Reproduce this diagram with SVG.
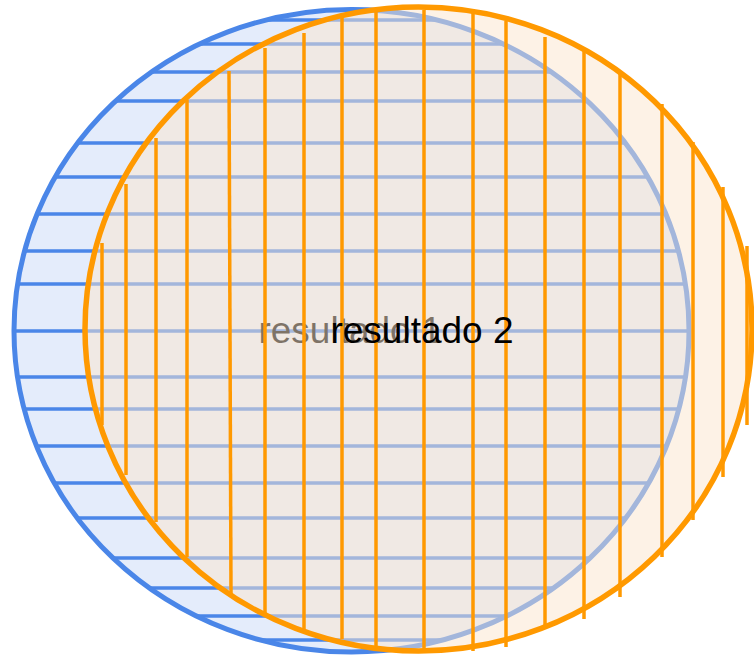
<svg xmlns="http://www.w3.org/2000/svg" width="754" height="657" viewBox="0 0 754 657">
  <style>
    .bfill { fill: #c9daf8; fill-opacity: 0.5; }
    .bline { stroke: #4a86e8; stroke-width: 3.5; fill: none; }
    .bedge { stroke: #4a86e8; stroke-width: 5; fill: none; }
    .ofill { fill: #fce5cd; fill-opacity: 0.5; }
    .oline { stroke: #ff9900; stroke-width: 3.5; fill: none; }
    .oedge { stroke: #ff9900; stroke-width: 5.5; fill: none; }
    .lbl { font-family: "Liberation Sans", Arial, sans-serif; font-size: 37px; fill: #000000; text-anchor: middle; }
  </style>
  <defs>
    <clipPath id="clipBlue">
      <ellipse cx="351.5" cy="330.8" rx="338" ry="321.5"/>
    </clipPath>
  </defs>
  <rect width="754" height="657" fill="#ffffff"/>

  <g id="resultado1">
    <ellipse class="bfill" cx="351.5" cy="330.8" rx="337.5" ry="321.2"/>
    <g clip-path="url(#clipBlue)">
      <line class="bline" x1="0" y1="20" x2="754" y2="20"/>
      <line class="bline" x1="0" y1="44" x2="754" y2="44"/>
      <line class="bline" x1="0" y1="72" x2="754" y2="72"/>
      <line class="bline" x1="0" y1="101" x2="754" y2="101"/>
      <line class="bline" x1="0" y1="143" x2="754" y2="143"/>
      <line class="bline" x1="0" y1="177" x2="754" y2="177"/>
      <line class="bline" x1="0" y1="214" x2="754" y2="214"/>
      <line class="bline" x1="0" y1="251" x2="754" y2="251"/>
      <line class="bline" x1="0" y1="284" x2="754" y2="284"/>
      <line class="bline" x1="0" y1="331" x2="754" y2="331"/>
      <line class="bline" x1="0" y1="377" x2="754" y2="377"/>
      <line class="bline" x1="0" y1="409" x2="754" y2="409"/>
      <line class="bline" x1="0" y1="446" x2="754" y2="446"/>
      <line class="bline" x1="0" y1="483" x2="754" y2="483"/>
      <line class="bline" x1="0" y1="518" x2="754" y2="518"/>
      <line class="bline" x1="0" y1="558" x2="754" y2="558"/>
      <line class="bline" x1="0" y1="588" x2="754" y2="588"/>
      <line class="bline" x1="0" y1="616" x2="754" y2="616"/>
      <line class="bline" x1="0" y1="640" x2="754" y2="640"/>
    </g>
    <ellipse class="bedge" cx="351.5" cy="330.8" rx="337.5" ry="321.2"/>
    <text class="lbl" x="350" y="343">resultado 1</text>
  </g>

  <g id="resultado2">
    <ellipse class="ofill" cx="418.5" cy="329" rx="333.5" ry="322"/>
    <line class="oline" x1="102" y1="243" x2="102" y2="425"/>
    <line class="oline" x1="126" y1="184" x2="126" y2="475"/>
    <line class="oline" x1="156" y1="138" x2="156" y2="522"/>
    <line class="oline" x1="187" y1="100" x2="187" y2="557"/>
    <line class="oline" x1="229" y1="71" x2="231" y2="594"/>
    <line class="oline" x1="265" y1="48" x2="265" y2="614"/>
    <line class="oline" x1="304" y1="33" x2="304" y2="629"/>
    <line class="oline" x1="342" y1="18" x2="342" y2="639"/>
    <line class="oline" x1="376" y1="10" x2="376" y2="650"/>
    <line class="oline" x1="424" y1="10" x2="424" y2="649"/>
    <line class="oline" x1="473" y1="13" x2="473" y2="651"/>
    <line class="oline" x1="506" y1="21" x2="506" y2="647"/>
    <line class="oline" x1="545" y1="37" x2="545" y2="627"/>
    <line class="oline" x1="584" y1="51" x2="584" y2="619"/>
    <line class="oline" x1="620" y1="74" x2="620" y2="597"/>
    <line class="oline" x1="662" y1="104" x2="662" y2="557"/>
    <line class="oline" x1="693" y1="142" x2="693" y2="520"/>
    <line class="oline" x1="723" y1="187" x2="723" y2="477"/>
    <line class="oline" x1="747" y1="246" x2="747" y2="425"/>
    <ellipse class="oedge" cx="418.5" cy="329" rx="333.5" ry="322"/>
    <text class="lbl" x="422" y="343">resultado 2</text>
  </g>
</svg>
